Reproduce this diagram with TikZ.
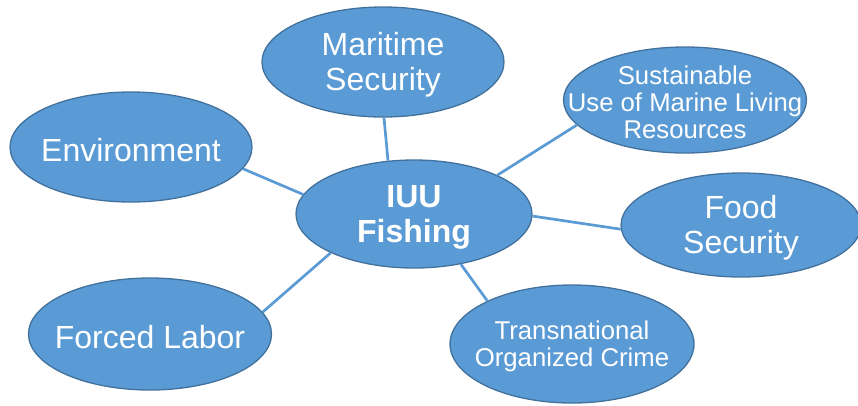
\documentclass[tikz,border=0pt]{standalone}
\usepackage{fontspec}
\setmainfont{Liberation Sans}
\usetikzlibrary{shapes.geometric}
\definecolor{bfill}{HTML}{5B9BD5}
\definecolor{bdraw}{HTML}{41719C}
\tikzset{
  bub/.style={ellipse, fill=bfill, draw=bdraw, line width=1.3pt, inner sep=0pt},
  big/.style={text=white, align=center, font=\fontsize{32}{35}\selectfont, inner sep=0pt, yshift=-3pt},
  small/.style={text=white, align=center, font=\fontsize{25.7}{27}\selectfont, inner sep=0pt, yshift=-2pt},
  link/.style={draw=bfill, line width=2.7pt}
}
\begin{document}
\begin{tikzpicture}[x=1pt,y=-1pt]
\useasboundingbox (0,0) rectangle (858,405);
\clip (0,0) rectangle (858,405);
\coordinate (iuuc) at (414,214);
\node[bub, minimum width=242pt, minimum height=110pt] (mar) at (383,62) {};
\node[bub, minimum width=243pt, minimum height=106pt] (sus) at (685,100) {};
\node[bub, minimum width=242pt, minimum height=110pt] (env) at (131,147) {};
\node[bub, minimum width=240pt, minimum height=104pt] (food) at (741,225) {};
\node[bub, minimum width=243pt, minimum height=112pt] (lab) at (150,334) {};
\node[bub, minimum width=244pt, minimum height=118pt] (crime) at (572,344) {};
\node[bub, minimum width=236pt, minimum height=108pt] (iuu) at (iuuc) {};
\draw[link] (iuu.116) -- (mar.271);
\draw[link] (iuu.170) -- (env.-11);
\draw[link] (iuu.25) -- (sus.193);
\draw[link] (iuu.-1) -- (food.182);
\draw[link] (iuu.205) -- (lab.11);
\draw[link] (iuu.313) -- (crime.153);
\node[big] at (mar) {Maritime\\Security};
\node[small] at (sus) {Sustainable\\Use of Marine Living\\Resources};
\node[big] at (env) {Environment};
\node[big] at (food) {Food\\Security};
\node[big] at (lab) {Forced Labor};
\node[small] at (crime) {Transnational\\Organized Crime};
\node[big, font=\fontsize{32}{35}\selectfont\bfseries] at (iuu) {IUU\\Fishing};
\end{tikzpicture}
\end{document}
